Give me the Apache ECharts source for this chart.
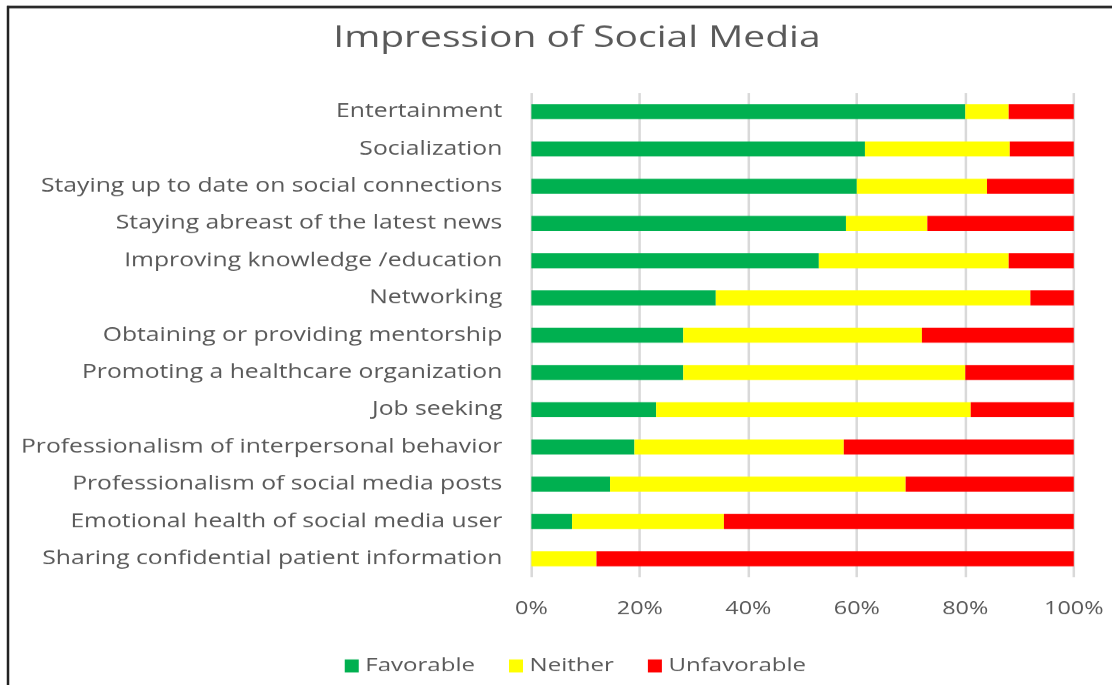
<!DOCTYPE html>
<html>
<head>
<meta charset="utf-8">
<script src="https://cdn.jsdelivr.net/npm/echarts@6/dist/echarts.min.js"></script>
<style>
  html, body { margin: 0; padding: 0; background: #ffffff; overflow: hidden; }
  #wrap { width: 1112px; height: 685px; overflow: hidden; }
  /* the chart is laid out narrower and widened on screen, like a stretched Excel export */
  #chart { width: 856px; height: 685px; transform-origin: 0 0; transform: scaleX(1.299065); }
</style>
</head>
<body>
<div id="wrap"><div id="chart"></div></div>
<script>
// Survey items, listed top to bottom
const categories = [
  'Entertainment',
  'Socialization',
  'Staying up to date on social connections',
  'Staying abreast of the latest news',
  'Improving knowledge /education',
  'Networking',
  'Obtaining or providing mentorship',
  'Promoting a healthcare organization',
  'Job seeking',
  'Professionalism of interpersonal behavior',
  'Professionalism of social media posts',
  'Emotional health of social media user',
  'Sharing confidential patient information'
];

// Share of respondents (%) for each item, same order as categories
const favorable   = [80, 61.5, 60, 58, 53, 34, 28, 28, 23, 19, 14.5, 7.5, 0];
const neither     = [8, 26.7, 24, 15, 35, 58, 44, 52, 58, 38.6, 54.5, 28, 12];
const unfavorable = [12, 11.8, 16, 27, 12, 8, 28, 20, 19, 42.4, 31, 64.5, 88];

const xTicks = [0, 20, 40, 60, 80, 100];

const FONT = '"Open Sans", "Noto Sans", sans-serif';
const TEXT = '#595959';
const SX = 1112 / 856;           // horizontal stretch applied by CSS
const px = v => v / SX;          // screen x -> layout x

// y axis is drawn bottom-up, so reverse to keep the first item on top
const cats = categories.slice().reverse();
const rev = a => a.slice().reverse();

const chart = echarts.init(document.getElementById('chart'), null, { devicePixelRatio: 1.3 });

function barSeries(name, values, color) {
  return {
    name: name,
    type: 'bar',
    stack: 'total',
    data: rev(values),
    barWidth: 15,
    itemStyle: { color: color },
    emphasis: { disabled: true }
  };
}

chart.setOption({
  animation: false,
  backgroundColor: '#ffffff',
  title: {
    text: 'Impression of Social Media',
    left: px(570),
    textAlign: 'center',
    top: 18,
    textStyle: { fontFamily: FONT, fontSize: 30, fontWeight: 'normal', color: TEXT }
  },
  legend: {
    bottom: 5,
    left: px(338),
    itemWidth: px(14),
    itemHeight: 13,
    itemGap: px(34),
    icon: 'rect',
    textStyle: { fontFamily: FONT, fontSize: 18.5, color: TEXT },
    data: ['Favorable', 'Neither', 'Unfavorable']
  },
  grid: { left: px(531), right: px(39), top: 93, bottom: 108, containLabel: false },
  xAxis: {
    type: 'value',
    min: xTicks[0],
    max: xTicks[xTicks.length - 1],
    interval: 20,
    axisLine: { show: false },
    axisTick: { show: false },
    splitLine: { show: true, lineStyle: { color: '#d9d9d9', width: px(2.5) } },
    axisLabel: {
      margin: 23,
      fontFamily: FONT, fontSize: 18, color: TEXT,
      formatter: v => v + '%'
    }
  },
  yAxis: {
    type: 'category',
    data: cats,
    axisLine: { show: false },
    axisTick: { show: false },
    axisLabel: { margin: px(29), fontFamily: FONT, fontSize: 19, color: TEXT }
  },
  series: [
    barSeries('Favorable', favorable, '#00b050'),
    barSeries('Neither', neither, '#ffff00'),
    barSeries('Unfavorable', unfavorable, '#ff0000')
  ],
  graphic: [
    { type: 'line', shape: { x1: px(7), y1: 7, x2: 856, y2: 7 }, style: { stroke: '#222', lineWidth: 2.5 } },
    { type: 'line', shape: { x1: px(8), y1: 6, x2: px(8), y2: 685 }, style: { stroke: '#222', lineWidth: px(2.5) } }
  ]
});
</script>
</body>
</html>
